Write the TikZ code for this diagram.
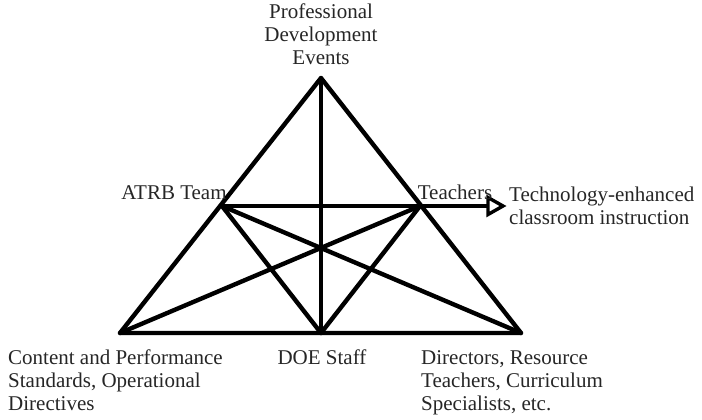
\documentclass[tikz,border=0pt]{standalone}
\usepackage{fontspec}
\setmainfont{Liberation Serif}
\usetikzlibrary{arrows.meta}
\begin{document}
\begin{tikzpicture}[x=1pt,y=-1pt,
  edge/.style={line width=4.4pt,line cap=round,line join=round,black},
  headstyle/.style={line width=3.4pt,line join=miter,fill=white,draw=black},
  lbl/.style={font=\fontsize{21}{23}\selectfont,inner sep=0pt,text=black!85},
  lblL/.style={lbl,align=left},
  lblC/.style={lbl,align=center}]
\useasboundingbox (0,0) rectangle (702,420);
\coordinate (top) at (321,78);
\coordinate (bl) at (120,333);
\coordinate (br) at (521,333);
\coordinate (bm) at (321,333);
\coordinate (atrb) at (222,206);
\coordinate (teach) at (420,206);
\coordinate (hb) at (488,206);
\coordinate (tip) at (503,206);
% edges
\draw[edge] (top) -- (bl) -- (br) -- cycle;
\draw[edge] (top) -- (bm);
\draw[edge] (atrb) -- (teach);
\draw[edge] (atrb) -- (br);
\draw[edge] (teach) -- (bl);
\draw[edge] (atrb) -- (bm);
\draw[edge] (teach) -- (bm);
\draw[line width=4.4pt] (teach) -- (hb);
\draw[headstyle] (tip) -- ([yshift=-8.5pt]hb) -- ([yshift=8.5pt]hb) -- cycle;
% labels
\node[lblC,anchor=base] (pde) at (321,65) {Professional\\Development\\Events};
\node[lbl,anchor=base] (atrbl) at (174,199) {ATRB Team};
\node[lbl,anchor=base] (teachl) at (455,199) {Teachers};
\node[lblL,anchor=base west] (techl) at (509,224) {Technology-enhanced\\classroom instruction};
\node[lblL,anchor=base west] (cps) at (8,410) {Content and Performance\\Standards, Operational\\Directives};
\node[lbl,anchor=base] (doe) at (322,364) {DOE Staff};
\node[lblL,anchor=base west] (dir) at (421,410) {Directors, Resource\\Teachers, Curriculum\\Specialists, etc.};
\end{tikzpicture}
\end{document}
